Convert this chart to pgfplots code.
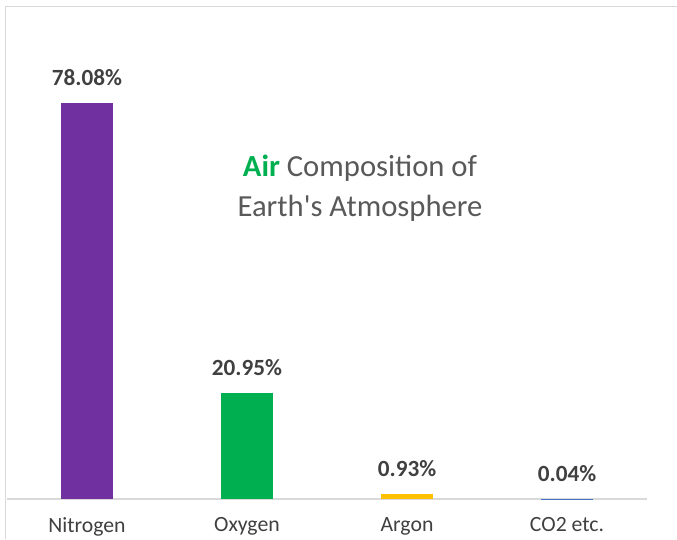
\documentclass[border=0pt]{standalone}
\usepackage{pgfplots}
\pgfplotsset{compat=1.18}
\usepackage{fontspec}
\setmainfont{Carlito}
\definecolor{nitro}{HTML}{7030A0}
\definecolor{oxy}{HTML}{00B050}
\definecolor{argon}{HTML}{FFC000}
\definecolor{cotwo}{HTML}{4472C4}
\definecolor{lbl}{HTML}{404040}
\definecolor{ttl}{HTML}{595959}
\definecolor{frame}{HTML}{D9D9D9}
\begin{document}
\begin{tikzpicture}
\useasboundingbox (0,0) rectangle (507.75pt,404.25pt);
\draw[frame, line width=1pt] (3.9pt,0) -- (3.9pt,399.5pt) -- (507.75pt,399.5pt);
\begin{axis}[
  at={(5.25pt,30pt)}, anchor=south west,
  scale only axis, width=480pt, height=342.4pt,
  xmin=-0.5, xmax=3.5, ymin=0, ymax=90,
  axis x line=bottom, axis y line=none,
  x axis line style={draw=frame, line width=1pt, -},
  xtick={0,1,2,3}, xticklabels={Nitrogen,Oxygen,Argon,CO2 etc.},
  major tick length=0pt,
  xticklabel style={font=\fontsize{16.3}{19}\selectfont, text=lbl, yshift=-10.5pt},
  ytick=\empty,
  ybar, bar width=39pt, bar shift=0pt,
  point meta=explicit symbolic,
  nodes near coords,
  every node near coord/.append style={font=\fontsize{17.4}{20}\bfseries, text=lbl, yshift=9.5pt},
  clip=false,
]
\addplot[fill=nitro, draw=none] coordinates {(0,78.08) [78.08\%]};
\addplot[fill=oxy, draw=none] coordinates {(1,20.95) [20.95\%]};
\addplot[fill=argon, draw=none] coordinates {(2,0.93) [0.93\%]};
\addplot[fill=cotwo, draw=none] coordinates {(3,0.04) [0.04\%]};
\end{axis}
\node[align=center, font=\fontsize{23}{30}\selectfont, text=ttl] at (270pt,263.25pt)
  {{\color{oxy}\bfseries Air} Composition of\\Earth\textquotesingle s Atmosphere};
\end{tikzpicture}
\end{document}
